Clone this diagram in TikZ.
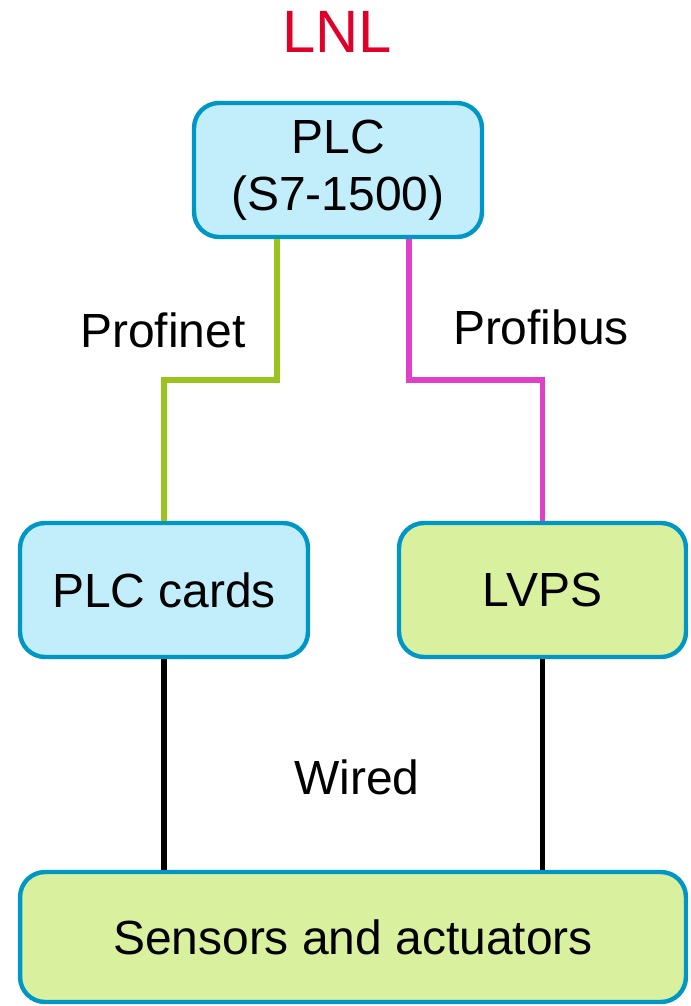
\documentclass[tikz,border=0pt]{standalone}
\usepackage{fontspec}
\setmainfont{Liberation Sans}
\usepackage{tikz}

\definecolor{boxblue}{HTML}{C2EEFC}
\definecolor{boxgreen}{HTML}{D9F09E}
\definecolor{edgeblue}{HTML}{0096C6}
\definecolor{netgreen}{HTML}{9BC31E}
\definecolor{busmagenta}{HTML}{E040C8}
\definecolor{titlered}{HTML}{E0002A}

\begin{document}
\begin{tikzpicture}[x=0.02cm, y=-0.02cm,
	block/.style={draw=edgeblue, line width=2.5pt, rounded corners=0.5cm, minimum width=5.76cm, minimum height=2.68cm, inner sep=0pt, align=center, font=\fontsize{27.3}{32.5}\selectfont},
	label/.style={font=\fontsize{27.3}{32.5}\selectfont},
	link/.style={line width=3.4pt}]
	\useasboundingbox (0,0) rectangle (690,1006);

	\node[text=titlered, font=\fontsize{34}{40}\selectfont] (title) at (337,32) {LNL};

	\node[block, fill=boxblue] (plc) at (338,170) {PLC\\(S7-1500)};
	\node[block, fill=boxblue] (cards) at (164,590) {PLC cards};
	\node[block, fill=boxgreen, minimum width=5.74cm] (lvps) at (542.5,590) {LVPS};
	\node[block, fill=boxgreen, minimum width=13.32cm, minimum height=2.6cm] (sensors) at (353,937) {Sensors and actuators};

	\draw[link, netgreen] ([xshift=-1.22cm]plc.south) -- ++(0,141) -| (cards.north);
	\draw[link, busmagenta] ([xshift=1.42cm]plc.south) -- ++(0,141) -| (lvps.north);
	\draw[link, black] (cards.south) -- (cards.south |- sensors.north);
	\draw[link, black] (lvps.south) -- (lvps.south |- sensors.north);

	\node[label] (profinet) at (163,330) {Profinet};
	\node[label] (profibus) at (541,327) {Profibus};
	\node[label] (wired) at (357,777) {Wired};

\end{tikzpicture}
\end{document}
